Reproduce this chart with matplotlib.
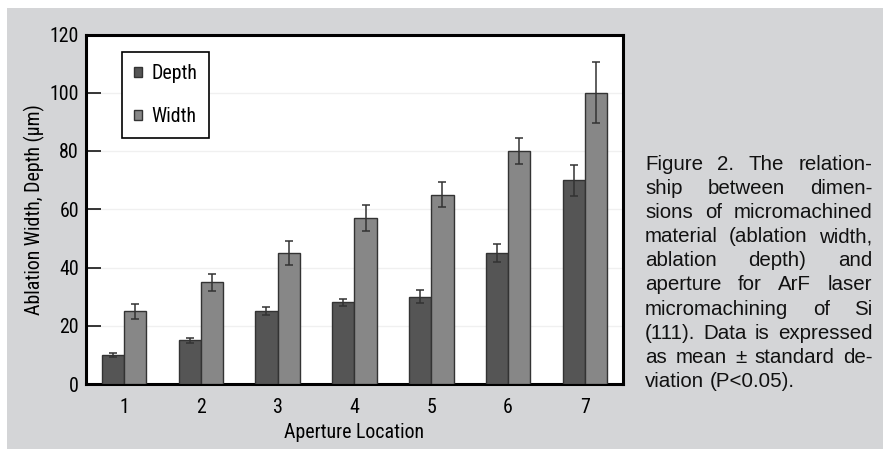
import matplotlib
matplotlib.use("Agg")
import matplotlib.pyplot as plt
from matplotlib.patches import Rectangle, Patch
from matplotlib import font_manager
import numpy as np

# ---------------- data ----------------
locations = [1, 2, 3, 4, 5, 6, 7]
tick_labels = ["1", "2", "3", "4", "5", "6", "7"]
depth = [10, 15, 25, 28, 30, 45, 70]
depth_sd = [0.7, 0.8, 1.3, 1.1, 2.2, 3.0, 5.3]
width = [25, 35, 45, 57, 65, 80, 100]
width_sd = [2.6, 2.9, 4.1, 4.5, 4.2, 4.3, 10.4]
series_labels = ["Depth", "Width"]
y_ticks = [0, 20, 40, 60, 80, 100, 120]
x_label = "Aperture Location"
y_label = "Ablation Width, Depth (\u03bcm)"
caption_lines = [
    "Figure 2. The relation-",
    "ship between dimen-",
    "sions of micromachined",
    "material (ablation width,",
    "ablation depth) and",
    "aperture for ArF laser",
    "micromachining of Si",
    "(111). Data is expressed",
    "as mean \u00b1 standard de-",
    "viation (P<0.05).",
]

# ---------------- style ----------------
W, H = 883, 451
DPI = 100
panel_col = "#d4d5d7"
depth_col = "#555555"
width_col = "#878787"
edge_col = "#333333"
err_col = "#333333"

installed = {f.name for f in font_manager.fontManager.ttflist}
narrow = [f for f in ["Liberation Sans Narrow", "Roboto Condensed",
                      "DejaVu Sans Condensed", "Roboto"] if f in installed]
narrow += ["DejaVu Sans"]
cap_font = ["Liberation Sans", "DejaVu Sans"]
fs = 14.3
cap_fs = 14.8

plt.rcParams["font.family"] = narrow

fig = plt.figure(figsize=(W / DPI, H / DPI), dpi=DPI, facecolor="white")
# grey panel
fig.patches.append(Rectangle((7 / W, 2 / H), 1 - 7 / W, 1 - 10 / H,
                             transform=fig.transFigure, facecolor=panel_col,
                             edgecolor="none", zorder=-10))

ax_l, ax_r, ax_t, ax_b = 86, 622.5, 34.5, 384
ax = fig.add_axes([ax_l / W, (H - ax_b) / H, (ax_r - ax_l) / W, (ax_b - ax_t) / H])
ax.set_facecolor("white")

x = np.array(locations, dtype=float)
bw = 0.29
err_kw = dict(ecolor=err_col, elinewidth=1.1, capsize=3.2, capthick=1.1)
ax.bar(x - bw / 2, depth, bw, yerr=depth_sd, color=depth_col, edgecolor=edge_col,
       linewidth=1.0, error_kw=err_kw, zorder=3, label=series_labels[0])
ax.bar(x + bw / 2, width, bw, yerr=width_sd, color=width_col, edgecolor=edge_col,
       linewidth=1.0, error_kw=err_kw, zorder=3, label=series_labels[1])

ax.set_xlim(0.505, 7.49)
ax.set_ylim(0, 120)
ax.set_yticks(y_ticks)
ax.set_xticks(locations)
ax.set_xticklabels(tick_labels)
ax.yaxis.grid(True, color="#f0f0f0", linewidth=1.0, zorder=0)
ax.set_axisbelow(True)

ax.tick_params(axis="y", direction="in", length=10.8, width=1.1, color="black",
               labelsize=fs, pad=5)
ax.tick_params(axis="x", length=0, labelsize=fs, pad=10)
for s in ax.spines.values():
    s.set_linewidth(2.2)
    s.set_color("black")

ax.set_xlabel(x_label, fontsize=fs, labelpad=4.5)
ax.set_ylabel(y_label, fontsize=fs, labelpad=3)

handles = [Patch(facecolor=depth_col, edgecolor=edge_col, linewidth=1.0),
           Patch(facecolor=width_col, edgecolor=edge_col, linewidth=1.0)]
leg = ax.legend(handles, series_labels, loc="upper left",
                bbox_to_anchor=((122 - ax_l) / (ax_r - ax_l), (ax_b - 52) / (ax_b - ax_t)),
                borderaxespad=0, fontsize=fs, frameon=True, fancybox=False,
                framealpha=1, edgecolor="black", handlelength=0.42,
                handleheight=0.42, handletextpad=0.45, labelspacing=1.22,
                borderpad=0.6)
leg.get_frame().set_linewidth(1.2)

# ---------------- justified caption ----------------
fig.canvas.draw()
rend = fig.canvas.get_renderer()


def text_w(s):
    t = fig.text(0, 0, s, fontsize=cap_fs, family=cap_font)
    w = t.get_window_extent(renderer=rend).width
    t.remove()
    return w


cap_left, cap_right = 645, 872.5
base0, step = 170, 24.1
space_w = text_w("a a") - 2 * text_w("a")
for i, line in enumerate(caption_lines):
    words = line.split(" ")
    widths = [text_w(w_) for w_ in words]
    last = i == len(caption_lines) - 1
    if not last and len(words) > 1:
        gap = (cap_right - cap_left - sum(widths)) / (len(words) - 1)
    else:
        gap = space_w
    xp = cap_left
    yb = base0 + i * step
    for w_, wd in zip(words, widths):
        fig.text(xp / W, (H - yb) / H, w_, fontsize=cap_fs, family=cap_font,
                 ha="left", va="baseline", color="#111111")
        xp += wd + gap

fig.savefig("out.png", dpi=DPI, facecolor=fig.get_facecolor())
